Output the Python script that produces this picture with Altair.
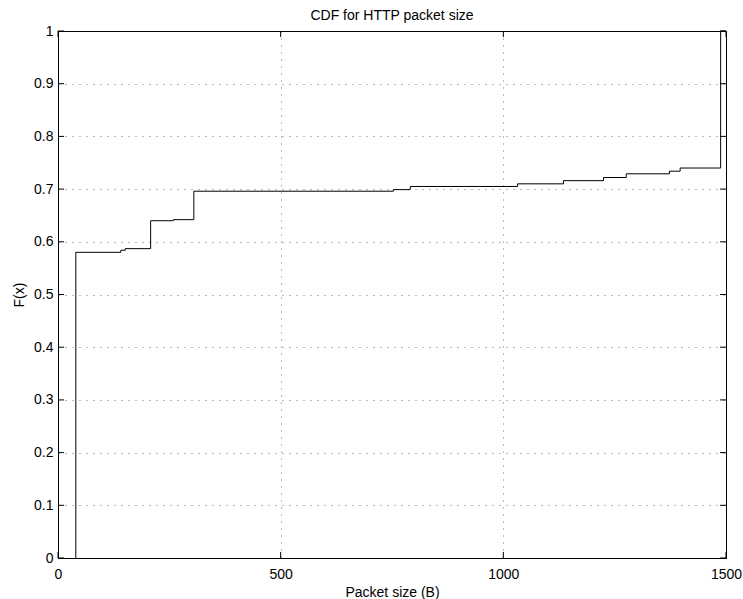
import altair as alt
import pandas as pd

# Step CDF points (packet size in bytes, cumulative probability)
sizes = [40, 40, 141, 151, 208, 259, 305, 753, 791, 1032, 1135, 1225, 1276, 1373, 1397, 1488, 1500]
cdf = [0.0, 0.580, 0.584, 0.587, 0.640, 0.642, 0.696, 0.699, 0.705, 0.710, 0.716, 0.722, 0.729, 0.734, 0.740, 1.0, 1.0]

x_ticks = [0, 500, 1000, 1500]
y_ticks = [0, 0.1, 0.2, 0.3, 0.4, 0.5, 0.6, 0.7, 0.8, 0.9, 1.0]

W, H = 668, 527
FONT = "Liberation Sans"

df = pd.DataFrame({"size": sizes, "F": cdf})
xt = pd.DataFrame({"t": x_ticks})
yt = pd.DataFrame({"t": y_ticks})

xscale = alt.Scale(domain=[0, 1500], nice=False, zero=False)
yscale = alt.Scale(domain=[0, 1], nice=False)

common = dict(grid=True, gridDash=[1, 6], gridColor="#000000", gridOpacity=0.55,
              tickSize=0, domainColor="black", labelFlush=False,
              labelFont=FONT, titleFont=FONT, labelFontSize=14, titleFontSize=14,
              titleFontWeight="normal", labelColor="black", titleColor="black")

line = alt.Chart(df).mark_line(
    interpolate="step-after", color="black", strokeWidth=1
).encode(
    x=alt.X("size:Q", scale=xscale,
            axis=alt.Axis(values=x_ticks, title="Packet size (B)", format="d",
                          labelPadding=9, titlePadding=4, **common)),
    y=alt.Y("F:Q", scale=yscale,
            axis=alt.Axis(values=y_ticks, title="F(x)", format="~g",
                          labelPadding=5, titlePadding=7, **common)),
)

tl = 6
xb = alt.Chart(xt).mark_rule(color="black", strokeWidth=1).encode(
    x=alt.X("t:Q", scale=xscale), y=alt.value(H), y2=alt.value(H - tl))
xtop = alt.Chart(xt).mark_rule(color="black", strokeWidth=1).encode(
    x=alt.X("t:Q", scale=xscale), y=alt.value(0), y2=alt.value(tl))
yl = alt.Chart(yt).mark_rule(color="black", strokeWidth=1).encode(
    y=alt.Y("t:Q", scale=yscale), x=alt.value(0), x2=alt.value(tl))
yr = alt.Chart(yt).mark_rule(color="black", strokeWidth=1).encode(
    y=alt.Y("t:Q", scale=yscale), x=alt.value(W), x2=alt.value(W - tl))

chart = alt.layer(line, xb, xtop, yl, yr).properties(
    width=W, height=H,
    title=alt.TitleParams("CDF for HTTP packet size", fontSize=14, fontWeight="normal",
                          font=FONT, anchor="middle", offset=1, color="black"),
    autosize=alt.AutoSizeParams(type="none"),
    padding={"left": 58, "top": 31, "right": 17, "bottom": 41},
    background="white",
).configure_view(
    stroke="black", strokeWidth=1
)

chart.save("out.html", embed_options={"renderer": "svg", "actions": False})
